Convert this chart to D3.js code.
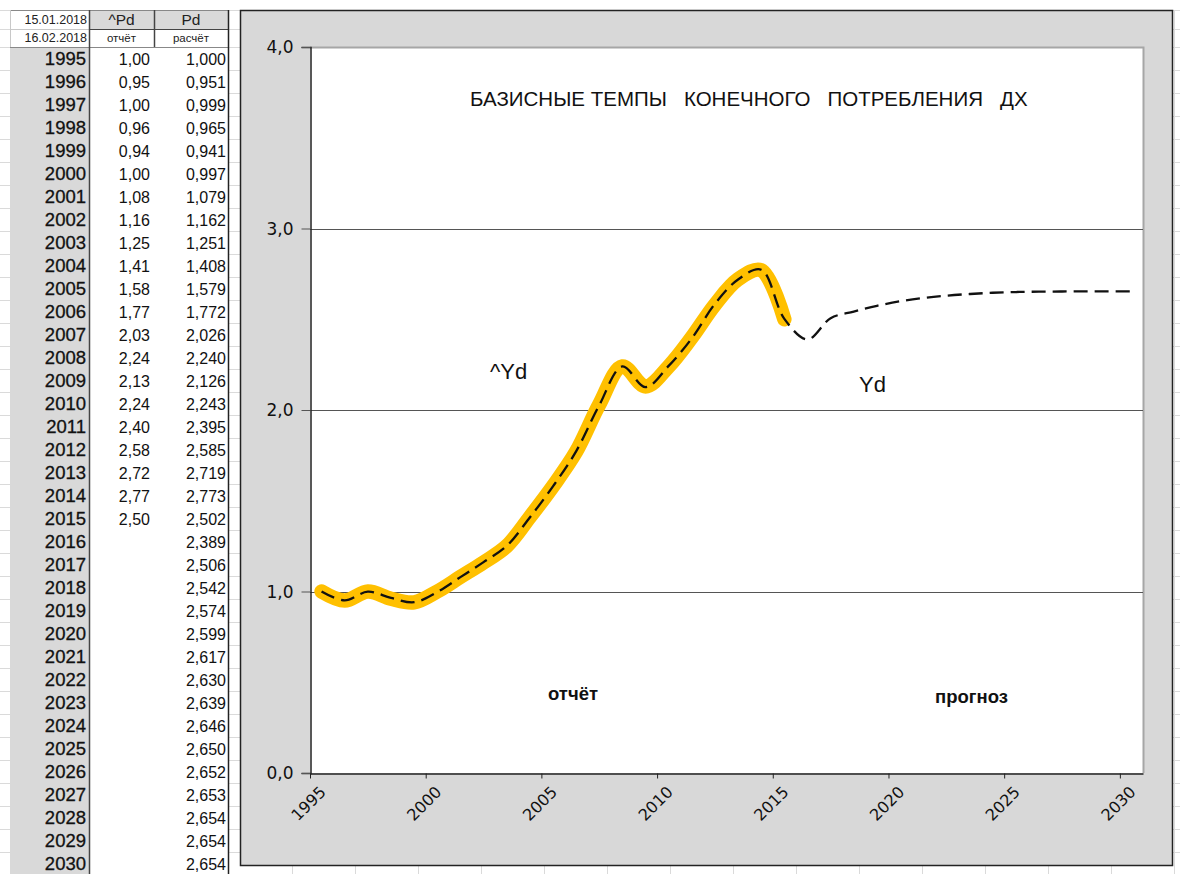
<!DOCTYPE html>
<html>
<head>
<meta charset="utf-8">
<script src="https://cdn.jsdelivr.net/npm/d3@7"></script>
<style>
  body { margin: 0; background: #fff; }
  svg { display: block; font-family: "Liberation Sans", Arial, sans-serif; }
  text { white-space: pre; }
</style>
</head>
<body>
<div id="chart"></div>
<script>
// data
var years = d3.range(1995, 2031);
var hatPd = [1.00, 0.95, 1.00, 0.96, 0.94, 1.00, 1.08, 1.16, 1.25, 1.41, 1.58,
             1.77, 2.03, 2.24, 2.13, 2.24, 2.40, 2.58, 2.72, 2.77, 2.50];
var Pd = [1.000, 0.951, 0.999, 0.965, 0.941, 0.997, 1.079, 1.162, 1.251, 1.408,
          1.579, 1.772, 2.026, 2.240, 2.126, 2.243, 2.395, 2.585, 2.719, 2.773,
          2.502, 2.389, 2.506, 2.542, 2.574, 2.599, 2.617, 2.630, 2.639, 2.646,
          2.650, 2.652, 2.653, 2.654, 2.654, 2.654];
var xTicks = [1995, 2000, 2005, 2010, 2015, 2020, 2025, 2030];
var yTicks = [0, 1, 2, 3, 4];
var headerDates = ["15.01.2018", "16.02.2018"];
var headerCols = [["^Pd", "отчёт"], ["Pd", "расчёт"]];

var W = 1180, H = 874;
var svg = d3.select("#chart").append("svg")
  .attr("width", W).attr("height", H);

var comma = function(f) { return function(v) { return d3.format(f)(v).replace(".", ","); }; };

// ---- spreadsheet background grid ----
var rowTop = 47, rowH = 23;
var grid = svg.append("g");
var rowLines = [10, 29, 47].concat(d3.range(1, 38).map(i => rowTop + i * rowH));
grid.selectAll("line.r").data(rowLines).enter().append("line")
  .attr("x1", 0).attr("x2", W).attr("y1", d => d + 0.5).attr("y2", d => d + 0.5)
  .attr("stroke", "#dadada");
var colLines = [10, 89, 154, 228].concat(d3.range(0, 16).map(i => 292 + i * 63));
grid.selectAll("line.c").data(colLines).enter().append("line")
  .attr("y1", 10).attr("y2", H).attr("x1", d => d + 0.5).attr("x2", d => d + 0.5)
  .attr("stroke", "#dadada");

// ---- table ----
var table = svg.append("g");
var row = d3.scaleBand().domain(years).range([rowTop, rowTop + years.length * rowH]);

// cells background
table.append("rect").attr("x", 10).attr("y", rowTop).attr("width", 79)
  .attr("height", H - rowTop).attr("fill", "#d9d9d9");
table.append("rect").attr("x", 89).attr("y", rowTop).attr("width", 139)
  .attr("height", H - rowTop).attr("fill", "#fff");
table.append("rect").attr("x", 10).attr("y", 10).attr("width", 79)
  .attr("height", 37).attr("fill", "#fff");
table.append("rect").attr("x", 89).attr("y", 10).attr("width", 139)
  .attr("height", 19).attr("fill", "#d9d9d9");
table.append("rect").attr("x", 89).attr("y", 29).attr("width", 139)
  .attr("height", 18).attr("fill", "#fff");

// borders
table.append("line").attr("x1", 10).attr("x2", 228).attr("y1", 10.5).attr("y2", 10.5)
  .attr("stroke", "#888");
table.append("line").attr("x1", 89).attr("x2", 228).attr("y1", 29.5).attr("y2", 29.5)
  .attr("stroke", "#444");
table.append("line").attr("x1", 10).attr("x2", 89).attr("y1", 29.5).attr("y2", 29.5)
  .attr("stroke", "#c8c8c8");
table.append("line").attr("x1", 10).attr("x2", 228).attr("y1", 47.5).attr("y2", 47.5)
  .attr("stroke", "#888");
table.append("line").attr("x1", 10.5).attr("x2", 10.5).attr("y1", 10).attr("y2", 47)
  .attr("stroke", "#c8c8c8");
table.append("line").attr("x1", 89.5).attr("x2", 89.5).attr("y1", 10).attr("y2", H)
  .attr("stroke", "#444").attr("stroke-width", 1.5);
table.append("line").attr("x1", 154.5).attr("x2", 154.5).attr("y1", 10).attr("y2", 47)
  .attr("stroke", "#444").attr("stroke-width", 1.5);
table.append("line").attr("x1", 228.5).attr("x2", 228.5).attr("y1", 10).attr("y2", H)
  .attr("stroke", "#222").attr("stroke-width", 1.5);

// header text
table.selectAll("text.date").data(headerDates).enter().append("text")
  .attr("x", 87).attr("y", (d, i) => i === 0 ? 24 : 42)
  .attr("text-anchor", "end").attr("font-size", 12.5).attr("fill", "#222")
  .text(d => d);
headerCols.forEach(function(h, i) {
  var cx = i === 0 ? 121.5 : 191;
  table.append("text").attr("x", cx).attr("y", 25).attr("text-anchor", "middle")
    .attr("font-size", 15.5).attr("fill", "#222").text(h[0]);
  table.append("text").attr("x", cx).attr("y", 42).attr("text-anchor", "middle")
    .attr("font-size", 11.5).attr("fill", "#222").text(h[1]);
});

// year rows
table.selectAll("text.yr").data(years).enter().append("text")
  .attr("x", 86).attr("y", d => row(d) + row.bandwidth() / 2 + 6.5)
  .attr("text-anchor", "end").attr("font-size", 18.5).attr("fill", "#111")
  .attr("stroke", "#111").attr("stroke-width", 0.3)
  .text(d => d);
table.selectAll("text.hp").data(hatPd).enter().append("text")
  .attr("x", 150).attr("y", (d, i) => row(years[i]) + row.bandwidth() / 2 + 6)
  .attr("text-anchor", "end").attr("font-size", 16).attr("fill", "#111")
  .text(comma(".2f"));
table.selectAll("text.pd").data(Pd).enter().append("text")
  .attr("x", 226).attr("y", (d, i) => row(years[i]) + row.bandwidth() / 2 + 6)
  .attr("text-anchor", "end").attr("font-size", 16).attr("fill", "#111")
  .text(comma(".3f"));

// ---- chart ----
svg.append("rect").attr("x", 240.5).attr("y", 10.5).attr("width", 932).attr("height", 855)
  .attr("fill", "#d8d8d8").attr("stroke", "#222").attr("stroke-width", 1.5);

var plot = {left: 310, top: 47, right: 1143, bottom: 773};
var x = d3.scaleLinear().domain([1995, 2031]).range([plot.left, plot.right]);
var y = d3.scaleLinear().domain([0, 4]).range([plot.bottom, plot.top]);

svg.append("rect").attr("x", plot.left).attr("y", plot.top)
  .attr("width", plot.right - plot.left).attr("height", plot.bottom - plot.top)
  .attr("fill", "#fff");
// shaded top/right edges
svg.append("path")
  .attr("d", "M" + plot.left + "," + (plot.top + 0.5) + "H" + (plot.right + 0.5) + "V" + plot.bottom)
  .attr("fill", "none").attr("stroke", "#a6a6a6").attr("stroke-width", 2);

// gridlines
svg.append("g").selectAll("line").data([1, 2, 3]).enter().append("line")
  .attr("x1", plot.left).attr("x2", plot.right)
  .attr("y1", d => Math.round(y(d)) + 0.5).attr("y2", d => Math.round(y(d)) + 0.5)
  .attr("stroke", "#555");

// axes
var yAxis = svg.append("g").attr("transform", "translate(" + (plot.left + 0.5) + ",0)")
  .call(d3.axisLeft(y).tickValues(yTicks).tickSize(9).tickFormat(comma(".1f")));
yAxis.select(".domain").attr("stroke", "#222").attr("stroke-width", 1.5);
yAxis.selectAll(".tick line").attr("stroke", "#555");
yAxis.selectAll("text").attr("font-size", 17).attr("fill", "#111")
  .attr("font-family", "DejaVu Sans, sans-serif").attr("x", -17).attr("dy", "0.35em");

var xAxis = svg.append("g").attr("transform", "translate(0," + (plot.bottom + 0.5) + ")")
  .call(d3.axisBottom(x).tickValues(xTicks).tickSize(5).tickSizeOuter(0).tickFormat(d3.format("d")));
xAxis.select(".domain").attr("stroke", "#222").attr("stroke-width", 1.5);
xAxis.selectAll(".tick line").attr("stroke", "#222");
xAxis.selectAll("text")
  .attr("font-size", 16).attr("fill", "#111").attr("font-family", "DejaVu Sans, sans-serif")
  .attr("text-anchor", "middle").attr("y", 0).attr("dy", "0.35em")
  .attr("transform", "translate(-2,30) rotate(-45)");

// series (plotted mid-year)
var line = d3.line()
  .x((d, i) => x(years[i] + 0.5))
  .y(d => y(d))
  .curve(d3.curveCatmullRom.alpha(0.5));

svg.append("path").datum(hatPd).attr("d", line)
  .attr("fill", "none").attr("stroke", "#ffc000").attr("stroke-width", 14.5)
  .attr("stroke-linecap", "round").attr("stroke-linejoin", "round");
svg.append("path").datum(Pd).attr("d", line)
  .attr("fill", "none").attr("stroke", "#111").attr("stroke-width", 2.3)
  .attr("stroke-dasharray", "14,7");

// labels
svg.append("text").attr("x", 470).attr("y", 106).attr("font-size", 20.5).attr("fill", "#111")
  .text("БАЗИСНЫЕ ТЕМПЫ   КОНЕЧНОГО   ПОТРЕБЛЕНИЯ   ДХ");
svg.append("text").attr("x", 490).attr("y", 379).attr("font-size", 22).attr("fill", "#111")
  .text("^Yd");
svg.append("text").attr("x", 859).attr("y", 392).attr("font-size", 22).attr("fill", "#111")
  .text("Yd");
svg.append("text").attr("x", 548).attr("y", 700).attr("font-size", 18.5).attr("font-weight", "bold")
  .attr("fill", "#111").text("отчёт");
svg.append("text").attr("x", 935).attr("y", 703).attr("font-size", 18.5).attr("font-weight", "bold")
  .attr("fill", "#111").text("прогноз");
</script>
</body>
</html>
